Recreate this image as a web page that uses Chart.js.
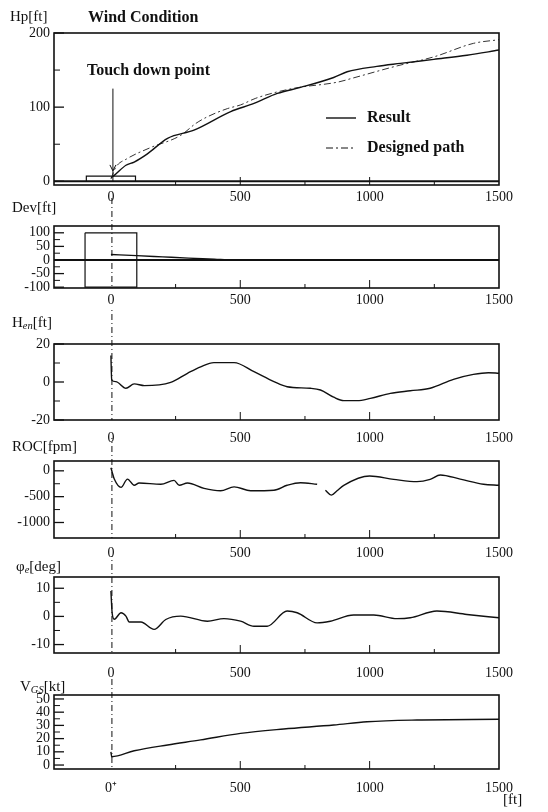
<!DOCTYPE html>
<html>
<head>
<meta charset="utf-8">
<script src="https://cdn.jsdelivr.net/npm/chart.js@4.4.0/dist/chart.umd.min.js"></script>
<style>
  body { margin: 0; background: #fff; width: 548px; height: 812px; position: relative; overflow: hidden; }
  canvas { position: absolute; left: 0; }
</style>
</head>
<body>
<canvas id="c1" width="548" height="205"></canvas>
<canvas id="c2" width="548" height="112"></canvas>
<canvas id="c3" width="548" height="134"></canvas>
<canvas id="c4" width="548" height="122"></canvas>
<canvas id="c5" width="548" height="121"></canvas>
<canvas id="c6" width="548" height="135"></canvas>
<script>
// data (x = distance [ft])
const xTicks = [0, 500, 1000, 1500];
const xMinor = [250, 750, 1250];

// Hp [ft]
const hpResultX = [0, 13, 58, 90, 141, 219, 321, 463, 553, 643, 733, 861, 913, 1028, 1119, 1248, 1376, 1500];
const hpResultY = [5, 8, 21.6, 26, 37, 58, 69, 94, 105, 118.5, 126.6, 140, 147.7, 155, 159, 164.5, 170, 177];
const hpDesignX = [0, 19, 60, 150, 270, 328, 373, 450, 501, 560, 700, 880, 933, 1099, 1250, 1401, 1500];
const hpDesignY = [3, 19, 30, 45, 62, 78, 87, 98, 103, 112, 125, 134, 139, 155, 168, 186, 191];
const runwayX = [-95, -95, 95, 95];
const runwayY = [0, 7, 7, 0];
const hpTicks = [0, 100, 200];
const hpMinor = [50, 150];

// Dev [ft]
const devX = [0, 100, 200, 300, 400, 470, 1500];
const devY = [20, 16, 11.5, 7, 3, 0, 0];
const boxX = [-100, 100, 100, -100, -100];
const boxY = [100, 100, -100, -100, 100];
const devTicks = [-100, -50, 0, 50, 100];
const devMinor = [-75, -25, 25, 75];

// Hen [ft]
const henX = [0, 3, 19, 58, 90, 129, 231, 296, 347, 398, 476, 553, 630, 681, 771, 810, 861, 900, 952, 1003, 1080, 1157, 1234, 1324, 1401, 1459, 1500];
const henY = [14, 1, 0.2, -3.3, -1, -1.9, -0.2, 4.6, 8, 10.2, 10.2, 5.4, 0.2, -2.5, -3.3, -4.2, -8, -9.8, -9.8, -8.6, -6, -4.6, -3.3, 1.4, 4, 4.9, 4.6];
const henTicks = [-20, 0, 20];
const henMinor = [-10, 10];

// ROC [fpm]
const rocX = [0, 5, 13, 39, 64, 90, 109, 193, 244, 264, 296, 360, 424, 476, 540, 630, 681, 733, 797, 812, 829, 852, 874, 900, 1000, 1093, 1183, 1234, 1273, 1350, 1440, 1500];
const rocY = [60, -30, -160, -320, -160, -280, -235, -260, -185, -280, -235, -340, -385, -310, -385, -375, -280, -230, -260, null, -375, -470, -385, -280, -100, -165, -210, -165, -80, -160, -260, -280];
const rocTicks = [-1000, -500, 0];
const rocMinor = [-750, -250];

// attitude [deg]
const angX = [0, 5, 13, 39, 58, 71, 116, 167, 212, 270, 373, 437, 501, 553, 604, 681, 720, 797, 848, 938, 1016, 1106, 1157, 1260, 1376, 1500];
const angY = [9, 1, -1, 1.3, 0.1, -2, -2, -4.6, -1.1, 0.1, -1.7, -0.8, -1.7, -3.5, -3.5, 1.9, 1.3, -2.3, -1.7, 0.5, 0.5, -0.8, -0.5, 1.9, 0.7, -0.5];
const angTicks = [-10, 0, 10];
const angMinor = [-5, 5];

// Vgs [kt]
const vgsX = [0, 3, 90, 219, 347, 501, 668, 861, 990, 1183, 1500];
const vgsY = [10, 6.3, 10.8, 15.2, 19, 24, 27.3, 30.3, 32.8, 34.1, 34.6];
const vgsTicks = [0, 10, 20, 30, 40, 50];
const vgsMinor = [5, 15, 25, 35, 45];

const FONT = '"Liberation Serif", "Times New Roman", serif';
const INK = '#111';

function pts(xs, ys) {
  return xs.map((x, i) => ({ x: x, y: ys[i] }));
}

function line(xs, ys, extra) {
  return Object.assign({
    data: pts(xs, ys),
    showLine: true,
    borderColor: INK,
    borderWidth: 1.4,
    pointRadius: 0,
    spanGaps: false,
    cubicInterpolationMode: 'monotone'
  }, extra || {});
}

// text with subscript pieces: [[text, isSub], ...]
function richText(ctx, parts, x, y, size) {
  ctx.textBaseline = 'middle';
  ctx.textAlign = 'left';
  parts.forEach(p => {
    const s = p[1] ? size * 0.7 : size;
    ctx.font = (p[1] ? 'italic ' : '') + s + 'px ' + FONT;
    ctx.fillText(p[0], x, p[1] ? y + size * 0.2 : y);
    x += ctx.measureText(p[0]).width;
  });
}

function makePanel(id, p) {
  const cv = document.getElementById(id);
  cv.style.top = p.top + 'px';

  const panelPlugin = {
    id: 'panel',
    afterDatasetsDraw(chart) {
      const ctx = chart.ctx;
      const a = chart.chartArea;
      const xs = chart.scales.x, ys = chart.scales.y;
      ctx.save();
      ctx.strokeStyle = INK;
      ctx.fillStyle = INK;

      // frame
      ctx.lineWidth = 1.6;
      ctx.strokeRect(a.left, a.top, a.right - a.left, a.bottom - a.top);

      // inward y ticks
      ctx.lineWidth = 1.3;
      p.yTicks.forEach(v => {
        const y = ys.getPixelForValue(v);
        ctx.beginPath(); ctx.moveTo(a.left, y); ctx.lineTo(a.left + 10, y); ctx.stroke();
      });
      ctx.lineWidth = 1;
      p.yMinor.forEach(v => {
        const y = ys.getPixelForValue(v);
        ctx.beginPath(); ctx.moveTo(a.left, y); ctx.lineTo(a.left + 6, y); ctx.stroke();
      });
      // inward x ticks
      [500, 1000].forEach(v => {
        const x = xs.getPixelForValue(v);
        ctx.beginPath(); ctx.moveTo(x, a.bottom); ctx.lineTo(x, a.bottom - 8); ctx.stroke();
      });
      xMinor.forEach(v => {
        const x = xs.getPixelForValue(v);
        ctx.beginPath(); ctx.moveTo(x, a.bottom); ctx.lineTo(x, a.bottom - 4); ctx.stroke();
      });

      // bold zero line
      if (p.zeroLine) {
        const y0 = ys.getPixelForValue(0);
        ctx.lineWidth = 2;
        ctx.beginPath(); ctx.moveTo(a.left, y0); ctx.lineTo(a.right, y0); ctx.stroke();
      }

      // touch-down dashed line at x = 0, from the panel above down to this panel's bottom
      if (p.prevBottom !== undefined) {
        const x0 = xs.getPixelForValue(0);
        ctx.lineWidth = 1;
        ctx.setLineDash([6, 3, 1, 3]);
        ctx.beginPath();
        ctx.moveTo(x0 + 1, p.prevBottom - p.top);
        ctx.lineTo(x0 + 1, a.bottom);
        ctx.stroke();
        ctx.setLineDash([]);
      }

      // axis title
      richText(ctx, p.title, p.titleX, p.titleY, 15);

      if (p.extra) p.extra(chart, ctx);
      ctx.restore();
    }
  };

  return new Chart(cv, {
    type: 'scatter',
    data: { datasets: p.datasets },
    options: {
      responsive: false,
      animation: false,
      layout: { padding: { top: p.padTop, right: 49, left: 0, bottom: 0 } },
      plugins: { legend: { display: false }, tooltip: { enabled: false } },
      scales: {
        x: {
          type: 'linear', min: -220, max: 1500,
          afterBuildTicks: s => { s.ticks = xTicks.map(v => ({ value: v })); },
          afterFit: s => { s.height = p.axisH; },
          grid: { display: false, drawTicks: false },
          border: { display: false },
          ticks: {
            font: { family: FONT, size: 14 }, color: INK, padding: p.labelPad,
            maxRotation: 0, autoSkip: false,
            callback: v => (v === 0 && p.zeroPlus) ? '0\u207A' : String(v)
          }
        },
        y: {
          type: 'linear', min: p.yMin, max: p.yMax,
          afterBuildTicks: s => { s.ticks = p.yTicks.map(v => ({ value: v })); },
          afterFit: s => { s.width = 54; },
          grid: { display: false, drawTicks: false },
          border: { display: false },
          ticks: {
            font: { family: FONT, size: 14 }, color: INK, padding: 4, autoSkip: false,
            callback: v => String(v)
          }
        }
      }
    },
    plugins: [panelPlugin]
  });
}

// 1: Hp
makePanel('c1', {
  top: 0, padTop: 33, axisH: 20, labelPad: 4,
  yMin: -5, yMax: 200, yTicks: hpTicks, yMinor: hpMinor, zeroLine: true,
  title: [['Hp[ft]', false]], titleX: 10, titleY: 17,
  datasets: [
    line(hpResultX, hpResultY),
    line(hpDesignX, hpDesignY, { borderDash: [7, 3, 2, 3], borderWidth: 1, borderColor: '#333' }),
    line(runwayX, runwayY, { cubicInterpolationMode: 'default', borderWidth: 1.2 })
  ],
  extra(chart, ctx) {
    const xs = chart.scales.x, ys = chart.scales.y;
    const x0 = xs.getPixelForValue(0) + 2;
    // touch down marker
    ctx.lineWidth = 1;
    ctx.beginPath(); ctx.moveTo(x0, ys.getPixelForValue(0)); ctx.lineTo(x0, ys.getPixelForValue(125)); ctx.stroke();
    const ya = ys.getPixelForValue(14);
    ctx.beginPath(); ctx.moveTo(x0 - 3, ya - 6); ctx.lineTo(x0, ya); ctx.lineTo(x0 + 3, ya - 6); ctx.stroke();
    ctx.font = 'bold 16px ' + FONT;
    ctx.textBaseline = 'middle';
    ctx.fillText('Wind Condition', 88, 18);
    ctx.fillText('Touch down point', 87, 71);
    // legend
    ctx.lineWidth = 1.4;
    ctx.beginPath(); ctx.moveTo(326, 118); ctx.lineTo(356, 118); ctx.stroke();
    ctx.lineWidth = 1;
    ctx.setLineDash([7, 3, 2, 3]);
    ctx.beginPath(); ctx.moveTo(326, 148); ctx.lineTo(356, 148); ctx.stroke();
    ctx.setLineDash([]);
    ctx.fillText('Result', 367, 118);
    ctx.fillText('Designed path', 367, 148);
  }
});

// 2: Dev
makePanel('c2', {
  top: 198, padTop: 28, axisH: 22, labelPad: 4, prevBottom: 185,
  yMin: -103, yMax: 125, yTicks: devTicks, yMinor: devMinor, zeroLine: true,
  title: [['Dev[ft]', false]], titleX: 12, titleY: 10,
  datasets: [
    line(devX, devY),
    line(boxX, boxY, { cubicInterpolationMode: 'default', borderWidth: 1.2 })
  ]
});

// 3: Hen
makePanel('c3', {
  top: 310, padTop: 34, axisH: 24, labelPad: 10, prevBottom: 288,
  yMin: -20, yMax: 20, yTicks: henTicks, yMinor: henMinor,
  title: [['H', false], ['en', true], ['[ft]', false]], titleX: 12, titleY: 13,
  datasets: [line(henX, henY)]
});

// 4: ROC
makePanel('c4', {
  top: 438, padTop: 23, axisH: 22, labelPad: 7, prevBottom: 420,
  yMin: -1300, yMax: 190, yTicks: rocTicks, yMinor: rocMinor,
  title: [['ROC[fpm]', false]], titleX: 12, titleY: 9,
  datasets: [line(rocX, rocY)]
});

// 5: attitude
makePanel('c5', {
  top: 556, padTop: 21, axisH: 24, labelPad: 12, prevBottom: 538,
  yMin: -13, yMax: 14, yTicks: angTicks, yMinor: angMinor,
  title: [['\u03C6', false], ['e', true], ['[deg]', false]], titleX: 16, titleY: 11,
  datasets: [line(angX, angY)]
});

// 6: Vgs
makePanel('c6', {
  top: 677, padTop: 18, axisH: 43, labelPad: 11, zeroPlus: true, prevBottom: 653,
  yMin: -3, yMax: 53, yTicks: vgsTicks, yMinor: vgsMinor,
  title: [['V', false], ['GS', true], ['[kt]', false]], titleX: 20, titleY: 10,
  datasets: [line(vgsX, vgsY)],
  extra(chart, ctx) {
    ctx.font = '15px ' + FONT;
    ctx.textBaseline = 'middle';
    ctx.fillText('[ft]', 503, 123);
  }
});
</script>
</body>
</html>
